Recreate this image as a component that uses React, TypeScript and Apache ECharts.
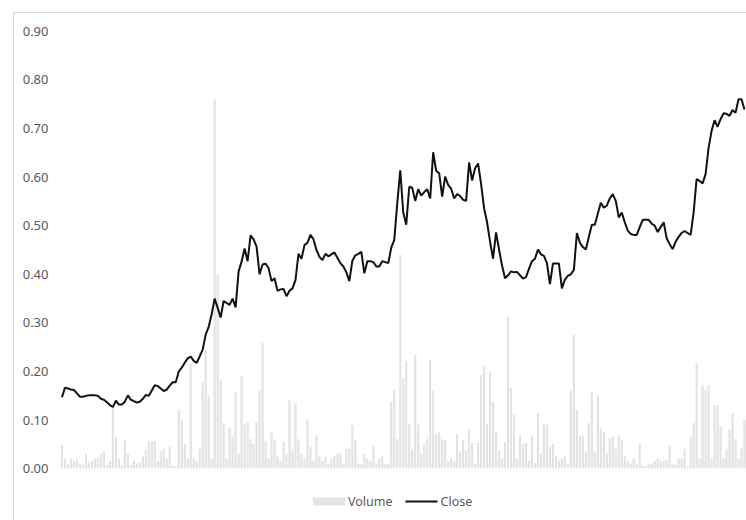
import React, { useEffect, useRef } from "react";
import * as echarts from "echarts";

const closeValues: number[] = [
  0.146, 0.166, 0.164, 0.162, 0.161, 0.154, 0.147, 0.147, 0.149, 0.15,
  0.15, 0.15, 0.149, 0.143, 0.141, 0.136, 0.13, 0.126, 0.139, 0.131,
  0.131, 0.137, 0.15, 0.141, 0.138, 0.135, 0.137, 0.143, 0.151, 0.149,
  0.16, 0.171, 0.169, 0.164, 0.159, 0.162, 0.17, 0.177, 0.177, 0.199,
  0.207, 0.217, 0.226, 0.23, 0.221, 0.217, 0.23, 0.244, 0.275, 0.291,
  0.317, 0.349, 0.33, 0.31, 0.344, 0.34, 0.336, 0.349, 0.331, 0.405,
  0.425, 0.452, 0.426, 0.479, 0.471, 0.456, 0.399, 0.419, 0.421, 0.412,
  0.385, 0.391, 0.365, 0.368, 0.369, 0.354, 0.365, 0.37, 0.387, 0.441,
  0.431, 0.459, 0.464, 0.48, 0.471, 0.449, 0.435, 0.428, 0.441, 0.436,
  0.44, 0.444, 0.433, 0.422, 0.415, 0.403, 0.385, 0.427, 0.438, 0.441,
  0.445, 0.401, 0.426, 0.426, 0.424, 0.415, 0.415, 0.426, 0.424, 0.422,
  0.454, 0.47, 0.545, 0.613, 0.526, 0.501, 0.579, 0.577, 0.55, 0.574,
  0.561, 0.568, 0.574, 0.555, 0.65, 0.612, 0.607, 0.559, 0.6, 0.583,
  0.575, 0.555, 0.564, 0.56, 0.552, 0.55, 0.629, 0.592, 0.617, 0.627,
  0.585, 0.535, 0.506, 0.466, 0.431, 0.485, 0.45, 0.417, 0.391, 0.397,
  0.405, 0.403, 0.404, 0.397, 0.39, 0.393, 0.41, 0.426, 0.431, 0.45,
  0.44, 0.437, 0.422, 0.379, 0.421, 0.421, 0.421, 0.37, 0.388, 0.396,
  0.399, 0.408, 0.484, 0.464, 0.455, 0.45, 0.476, 0.501, 0.501, 0.524,
  0.546, 0.536, 0.54, 0.555, 0.564, 0.55, 0.516, 0.526, 0.506, 0.489,
  0.482, 0.48, 0.48, 0.496, 0.511, 0.511, 0.511, 0.503, 0.499, 0.486,
  0.496, 0.506, 0.473, 0.461, 0.451, 0.466, 0.476, 0.484, 0.488, 0.484,
  0.48, 0.526, 0.595, 0.591, 0.586, 0.605, 0.659, 0.694, 0.716, 0.702,
  0.718, 0.73, 0.729, 0.725, 0.737, 0.731, 0.759, 0.759, 0.738,
];

const volumeValues: number[] = [
  0.048, 0.02, 0.008, 0.02, 0.015, 0.018, 0.01, 0.008, 0.03, 0.012,
  0.015, 0.02, 0.022, 0.03, 0.035, 0.006, 0.015, 0.124, 0.065, 0.02,
  0.005, 0.057, 0.03, 0.006, 0.015, 0.01, 0.012, 0.025, 0.038, 0.055,
  0.056, 0.056, 0.015, 0.035, 0.04, 0.02, 0.044, 0.005, 0.004, 0.121,
  0.1, 0.05, 0.02, 0.215, 0.02, 0.015, 0.04, 0.178, 0.243, 0.15,
  0.02, 0.758, 0.398, 0.182, 0.093, 0.02, 0.083, 0.066, 0.158, 0.03,
  0.189, 0.09, 0.095, 0.06, 0.05, 0.095, 0.161, 0.258, 0.055, 0.02,
  0.075, 0.06, 0.025, 0.015, 0.055, 0.03, 0.14, 0.04, 0.134, 0.06,
  0.03, 0.02, 0.1, 0.045, 0.015, 0.067, 0.025, 0.015, 0.024, 0.01,
  0.02, 0.025, 0.03, 0.03, 0.01, 0.04, 0.04, 0.089, 0.058, 0.01,
  0.008, 0.03, 0.02, 0.015, 0.045, 0.01, 0.02, 0.025, 0.008, 0.01,
  0.137, 0.161, 0.06, 0.439, 0.185, 0.221, 0.092, 0.04, 0.233, 0.09,
  0.03, 0.05, 0.06, 0.223, 0.16, 0.07, 0.074, 0.06, 0.058, 0.015,
  0.02, 0.015, 0.07, 0.034, 0.058, 0.037, 0.08, 0.052, 0.01, 0.052,
  0.192, 0.209, 0.09, 0.199, 0.137, 0.075, 0.037, 0.02, 0.054, 0.312,
  0.165, 0.11, 0.02, 0.069, 0.05, 0.052, 0.015, 0.066, 0.01, 0.114,
  0.03, 0.09, 0.09, 0.045, 0.05, 0.025, 0.015, 0.02, 0.025, 0.01,
  0.16, 0.274, 0.12, 0.066, 0.066, 0.035, 0.093, 0.157, 0.035, 0.15,
  0.082, 0.075, 0.03, 0.062, 0.066, 0.04, 0.068, 0.058, 0.025, 0.015,
  0.01, 0.02, 0.008, 0.05, 0.005, 0.004, 0.008, 0.01, 0.015, 0.02,
  0.015, 0.015, 0.017, 0.048, 0.008, 0.008, 0.02, 0.02, 0.04, 0.005,
  0.065, 0.093, 0.216, 0.02, 0.171, 0.16, 0.171, 0.02, 0.13, 0.13,
  0.086, 0.02, 0.04, 0.08, 0.113, 0.06, 0.02, 0.04, 0.1,
];

const categories: string[] = closeValues.map((_, i) => String(i + 1));

const yTicks = { min: 0, max: 0.9, interval: 0.1 };

export default function App() {
  const ref = useRef<HTMLDivElement>(null);

  useEffect(() => {
    if (!ref.current) return;
    const chart = echarts.init(ref.current, undefined, { renderer: "svg" });
    const font = "'Noto Sans', sans-serif";
    chart.setOption({
      animation: false,
      backgroundColor: "#ffffff",
      grid: { left: 60.5, top: 30.7, width: 687, height: 437.6, containLabel: false },
      graphic: [
        {
          type: "rect",
          shape: { x: 13.5, y: 12.5, width: 900, height: 700 },
          style: { fill: "none", stroke: "#d9d9d9", lineWidth: 1 },
          silent: true,
          z: -10,
        },
      ],
      legend: {
        left: 308,
        top: 490,
        itemWidth: 32,
        itemHeight: 8,
        itemGap: 12,
        textStyle: { color: "#595959", fontSize: 12.5, fontFamily: font, padding: [0, 0, 0, -2] },
        data: [
          { name: "Volume", icon: "rect" },
          {
            name: "Close",
            itemStyle: { color: "rgba(0,0,0,0)", borderColor: "rgba(0,0,0,0)", borderWidth: 0 },
            lineStyle: { color: "#111111", width: 2 },
          },
        ],
      },
      xAxis: {
        type: "category",
        data: categories,
        boundaryGap: true,
        axisLine: { show: false },
        axisTick: { show: false },
        axisLabel: { show: false },
        splitLine: { show: false },
      },
      yAxis: {
        type: "value",
        min: yTicks.min,
        max: yTicks.max,
        interval: yTicks.interval,
        axisLine: { show: false },
        axisTick: { show: false },
        splitLine: { show: false },
        axisLabel: {
          margin: 12,
          color: "#595959",
          fontSize: 13,
          fontFamily: font,
          formatter: (v: number) => v.toFixed(2),
        },
      },
      series: [
        {
          name: "Volume",
          type: "bar",
          data: volumeValues,
          barWidth: 2.2,
          itemStyle: { color: "#e3e3e3" },
          z: 1,
        },
        {
          name: "Close",
          type: "line",
          data: closeValues,
          symbol: "none",
          lineStyle: { color: "#111111", width: 2 },
          itemStyle: { color: "#111111" },
          z: 3,
        },
      ],
    });
    return () => chart.dispose();
  }, []);

  return (
    <div
      ref={ref}
      style={{ position: "fixed", left: 0, top: 0, width: 746, height: 520 }}
    />
  );
}
